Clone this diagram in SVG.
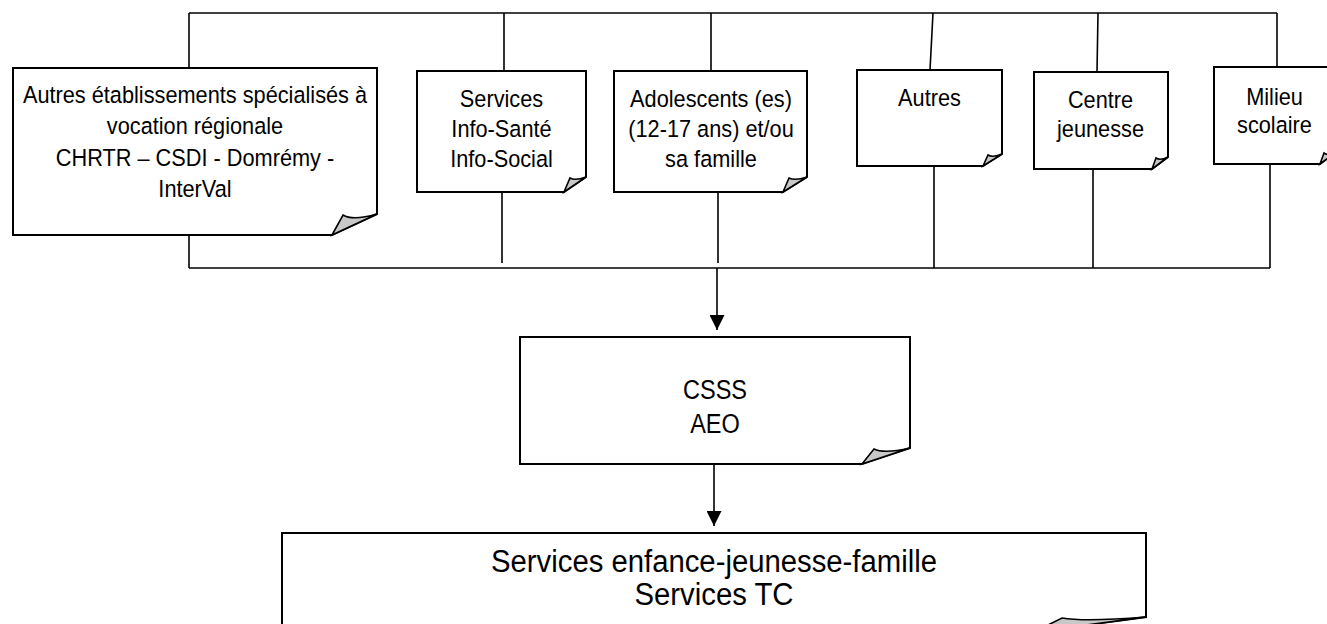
<svg xmlns="http://www.w3.org/2000/svg" width="1327" height="624" viewBox="0 0 1327 624">
<style>
.box{fill:#fff;stroke:#000;stroke-width:2;stroke-linejoin:miter}
.fold{fill:#c8c8c8;stroke:#000;stroke-width:1.6;stroke-linejoin:miter}
.ln{fill:none;stroke:#000;stroke-width:1.6}
.t{font-family:"Liberation Sans",Arial,sans-serif;font-size:23.5px;fill:#000;text-anchor:middle}
.tm{font-family:"Liberation Sans",Arial,sans-serif;font-size:27px;fill:#000;text-anchor:middle}
.tb{font-family:"Liberation Sans",Arial,sans-serif;font-size:31px;fill:#000;text-anchor:middle}
</style>
<defs>
<marker id="arr" viewBox="0 0 15 15" refX="15" refY="7.5" markerWidth="15" markerHeight="15" markerUnits="userSpaceOnUse" orient="auto">
<path d="M0,0 L15,7.5 L0,15 Z" fill="#000"/>
</marker>
</defs>

<g id="connectors">
<path class="ln" d="M189,13 H1277"/>
<path class="ln" d="M189,13 V68 M504,13 V71 M711,13 V71 M933,13 L930,70 M1098,13 L1097,72 M1277,13 V67"/>
<path class="ln" d="M189,235 V268 M502,192 V263 M718,192 V263 M934,166 V268 M1093,169 V268 M1270,164 V268"/>
<path class="ln" d="M189,268 H1270"/>
<path class="ln" d="M717,268 V330" marker-end="url(#arr)"/>
<path class="ln" d="M714,464 V526" marker-end="url(#arr)"/>
</g>

<g id="n1">
<path class="box" d="M13,68 H377 V214 L332,235 H13 Z"/>
<path class="fold" d="M332,235 L343,215 Q353,221 377,214 Z"/>
<g transform="translate(195 0) scale(0.925 1)">
<text class="t"><tspan x="0" y="103">Autres établissements spécialisés à</tspan><tspan x="0" y="134">vocation régionale</tspan><tspan x="0" y="166">CHRTR – CSDI - Domrémy -</tspan><tspan x="0" y="197">InterVal</tspan></text>
</g>
</g>

<g id="n2">
<path class="box" d="M417,71 H586 V177 L564,192 H417 Z"/>
<path class="fold" d="M564,192 L570,178 Q575,181 586,177 Z"/>
<g transform="translate(501.5 0) scale(0.925 1)">
<text class="t"><tspan x="0" y="107">Services</tspan><tspan x="0" y="137">Info-Santé</tspan><tspan x="0" y="167">Info-Social</tspan></text>
</g>
</g>

<g id="n3">
<path class="box" d="M614,71 H807 V177 L783,192 H614 Z"/>
<path class="fold" d="M783,192 L789,178 Q795,181 807,177 Z"/>
<g transform="translate(711 0) scale(0.925 1)">
<text class="t"><tspan x="0" y="107">Adolescents (es)</tspan><tspan x="0" y="137">(12-17 ans) et/ou</tspan><tspan x="0" y="167">sa famille</tspan></text>
</g>
</g>

<g id="n4">
<path class="box" d="M857,70 H1002 V154 L983,166 H857 Z"/>
<path class="fold" d="M983,166 L988,155 Q992,158 1002,154 Z"/>
<g transform="translate(929.5 0) scale(0.925 1)">
<text class="t"><tspan x="0" y="106">Autres</tspan></text>
</g>
</g>

<g id="n5">
<path class="box" d="M1034,72 H1168 V157 L1152,169 H1034 Z"/>
<path class="fold" d="M1152,169 L1156,158 Q1160,161 1168,157 Z"/>
<g transform="translate(1100.5 0) scale(0.925 1)">
<text class="t"><tspan x="0" y="108">Centre</tspan><tspan x="0" y="137">jeunesse</tspan></text>
</g>
</g>

<g id="n6">
<path class="box" d="M1214,67 H1336 V152 L1320,164 H1214 Z"/>
<path class="fold" d="M1320,164 L1324,153 Q1328,156 1336,152 Z"/>
<g transform="translate(1274.5 0) scale(0.925 1)">
<text class="t"><tspan x="0" y="105">Milieu</tspan><tspan x="0" y="133">scolaire</tspan></text>
</g>
</g>

<g id="n7">
<path class="box" d="M520,337 H910 V448 L862,464 H520 Z"/>
<path class="fold" d="M862,464 L874,449 Q884,454 910,448 Z"/>
<g transform="translate(715 0) scale(0.87 1)">
<text class="tm"><tspan x="0" y="399">CSSS</tspan><tspan x="0" y="433">AEO</tspan></text>
</g>
</g>

<g id="n8">
<path class="box" d="M282,533 H1146 V617 L1034,632 H282 Z"/>
<path class="fold" d="M1034,632 L1062,618 Q1085,622 1146,617 Z"/>
<g transform="translate(714 0) scale(0.945 1)">
<text class="tb"><tspan x="0" y="572">Services enfance-jeunesse-famille</tspan><tspan x="0" y="605">Services TC</tspan></text>
</g>
</g>
</svg>
